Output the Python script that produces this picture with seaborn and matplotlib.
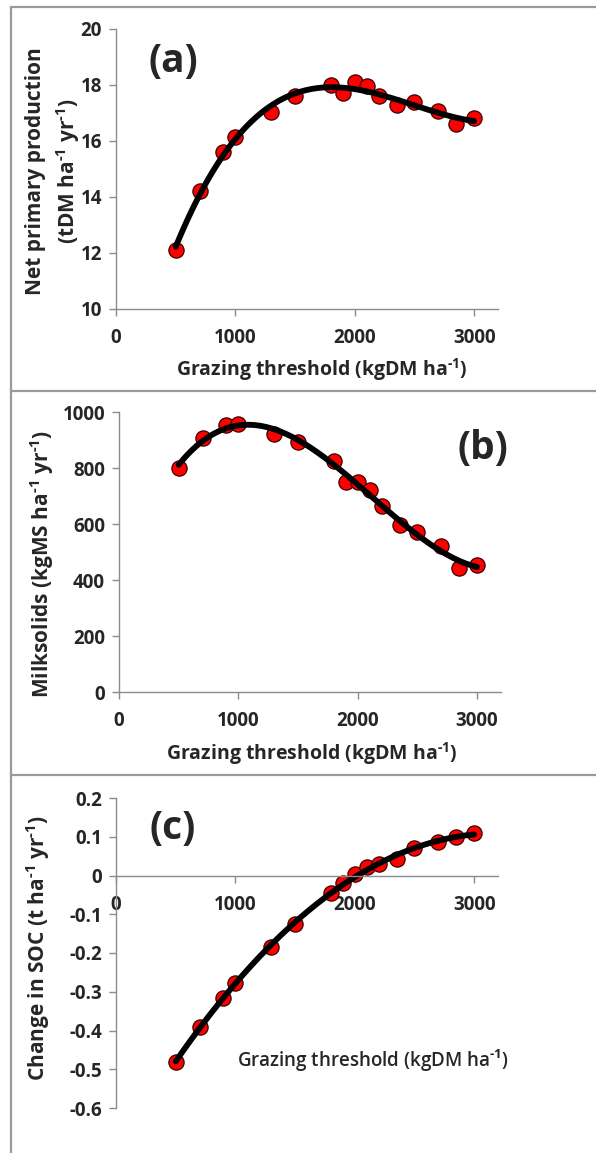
import numpy as np
import pandas as pd
import matplotlib
matplotlib.use("Agg")
import matplotlib.pyplot as plt
import seaborn as sns
from matplotlib.lines import Line2D

sns.set_theme(style="white")
plt.rcParams["font.family"] = ["Open Sans", "DejaVu Sans"]
plt.rcParams["mathtext.fontset"] = "custom"
plt.rcParams["mathtext.rm"] = "Open Sans:bold"
plt.rcParams["mathtext.bf"] = "Open Sans:bold"
plt.rcParams["mathtext.default"] = "regular"
plt.rcParams["axes.unicode_minus"] = False

# grazing threshold (kgDM/ha)
threshold = [500, 700, 900, 1000, 1300, 1500, 1800, 1900, 2000, 2100, 2200, 2350, 2500, 2700, 2850, 3000]
# (a) net primary production (tDM/ha/yr)
npp = [12.1, 14.2, 15.6, 16.15, 17.05, 17.6, 18.0, 17.7, 18.1, 17.95, 17.6, 17.3, 17.4, 17.08, 16.6, 16.82]
# (b) milksolids (kgMS/ha/yr)
milksolids = [800, 907, 952, 958, 923, 894, 824, 751, 749, 722, 664, 596, 572, 522, 444, 452]
# (c) change in SOC (t/ha/yr)
soc_change = [-0.481, -0.391, -0.316, -0.277, -0.185, -0.125, -0.046, -0.02, 0.004, 0.021, 0.03, 0.043, 0.07, 0.086, 0.099, 0.11]

W, H = 596, 1153
fig = plt.figure(figsize=(W / 100, H / 100), dpi=100)

SUP = r"$^{\text{-1}}$"
XLAB = "Grazing threshold (kgDM ha" + SUP + ")"


def px_axes(left, right, top, bottom):
    return fig.add_axes([left / W, 1 - bottom / H, (right - left) / W, (bottom - top) / H])


def style_axes(ax):
    for s in ["top", "right"]:
        ax.spines[s].set_visible(False)
    for s in ["left", "bottom"]:
        ax.spines[s].set_color("#8c8c8c")
        ax.spines[s].set_linewidth(1.0)
    ax.tick_params(axis="both", direction="out", length=5, width=1.0, color="#8c8c8c",
                   labelsize=13.5, bottom=True, left=True)
    ax.tick_params(axis="x", pad=9)
    ax.tick_params(axis="y", pad=5)
    for lab in ax.get_xticklabels() + ax.get_yticklabels():
        lab.set_fontweight("bold")


def draw(ax, y):
    df = pd.DataFrame({"x": threshold, "y": y})
    sns.regplot(data=df, x="x", y="y", order=3, ci=None, ax=ax,
                scatter_kws=dict(s=120, color="#ff0000", edgecolor="#3a0000", linewidths=0.9, alpha=1),
                line_kws=dict(color="black", lw=4.2))
    ax.set_xlim(0, 3200)
    ax.set_xticks([0, 1000, 2000, 3000])


xlab_kw = dict(fontsize=14, fontweight="bold")
ylab_kw = dict(fontsize=15, fontweight="bold")
panel_kw = dict(fontsize=28, fontweight="bold", ha="center", va="center")

# panel (a)
ax1 = px_axes(116, 498, 29, 309)
draw(ax1, npp)
ax1.set_ylim(10, 20)
ax1.set_yticks([10, 12, 14, 16, 18, 20])
style_axes(ax1)
ax1.set_xlabel(XLAB, **xlab_kw)
ax1.xaxis.set_label_coords(0.54, -0.167)
ax1.set_ylabel("Net primary production\n(tDM ha" + SUP + " yr" + SUP + ")",
               linespacing=1.35, **ylab_kw)
ax1.yaxis.set_label_coords(-0.09, 0.493)
ax1.text(0.15, 0.885, "(a)", transform=ax1.transAxes, **panel_kw)

# panel (b)
ax2 = px_axes(119, 501, 412, 692)
draw(ax2, milksolids)
ax2.set_ylim(0, 1000)
ax2.set_yticks([0, 200, 400, 600, 800, 1000])
style_axes(ax2)
ax2.set_xlabel(XLAB, **xlab_kw)
ax2.xaxis.set_label_coords(0.505, -0.172)
ax2.set_ylabel("Milksolids (kgMS ha" + SUP + " yr" + SUP + ")", **ylab_kw)
ax2.yaxis.set_label_coords(-0.164, 0.457)
ax2.text(0.953, 0.871, "(b)", transform=ax2.transAxes, **panel_kw)

# panel (c)
ax3 = px_axes(116, 498, 798, 1108)
draw(ax3, soc_change)
ax3.set_ylim(-0.6, 0.2)
ax3.set_yticks([-0.6, -0.5, -0.4, -0.3, -0.2, -0.1, 0, 0.1, 0.2])
ax3.set_yticklabels(["-0.6", "-0.5", "-0.4", "-0.3", "-0.2", "-0.1", "0", "0.1", "0.2"])
ax3.spines["bottom"].set_position(("data", 0))
style_axes(ax3)
ax3.set_xlabel(XLAB, fontsize=13.5, fontweight="semibold")
ax3.xaxis.set_label_coords(0.673, 0.195)
ax3.set_ylabel("Change in SOC (t ha" + SUP + " yr" + SUP + ")", **ylab_kw)
ax3.yaxis.set_label_coords(-0.167, 0.516)
ax3.text(0.148, 0.9, "(c)", transform=ax3.transAxes, **panel_kw)

# gray panel frames
frame_kw = dict(color="#9a9a9a", lw=1.6, transform=fig.transFigure)
fig.add_artist(Line2D([10.5 / W, 10.5 / W], [0, 1 - 7 / H], **frame_kw))
for yy in [7, 391, 775]:
    fig.add_artist(Line2D([10.5 / W, 1], [1 - yy / H, 1 - yy / H], **frame_kw))

fig.savefig("out.png", dpi=100)
